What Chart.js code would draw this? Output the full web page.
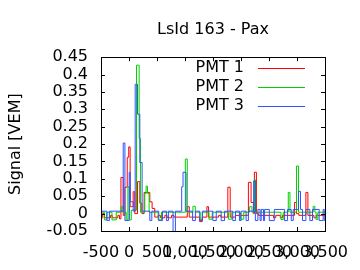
<!DOCTYPE html>
<html>
<head>
<meta charset="utf-8">
<script src="https://cdn.jsdelivr.net/npm/chart.js@4"></script>
<style>
  body { margin: 0; background: #fff; }
  canvas { display: block; }
</style>
</head>
<body>
<canvas id="myChart" width="360" height="270"></canvas>
<script>
var xTicks = [-500, 0, 500, 1000, 1500, 2000, 2500, 3000, 3500];
var legendNames = ['PMT 1', 'PMT 2', 'PMT 3'];

// step traces: each y holds from its x to the next x
var pmt1X = [-500, -470, -440, -330, -300, -200, -170, -144, -103, -73, -32, -5, 20, 45, 74, 103, 152, 193, 230, 270, 371, 412, 460, 520, 560, 640, 680, 760, 800, 1040, 1075, 1110, 1260, 1308, 1390, 1420, 1600, 1640, 1764, 1806, 1900, 2131, 2179, 2220, 2238, 2274, 2310, 2580, 2620, 2700, 2740, 2955, 2990, 3030, 3157, 3193, 3300, 3340, 3500];
var pmt1Y = [-0.012, 0.0, -0.012, -0.005, -0.012, -0.005, -0.015, 0.104, -0.005, 0.076, 0.162, 0.192, 0.02, 0.02, 0.063, 0.0, 0.092, 0.03, 0.0, 0.061, 0.034, 0.015, -0.01, -0.005, -0.012, -0.005, -0.012, -0.005, -0.01, 0.02, -0.01, -0.01, -0.023, -0.01, 0.02, -0.01, -0.005, -0.01, 0.076, -0.01, -0.005, 0.09, 0.032, 0.0, 0.119, 0.0, -0.005, -0.012, -0.005, -0.012, -0.005, 0.032, 0.0, -0.005, 0.061, -0.005, -0.012, -0.005, -0.005];

var pmt2X = [-500, -440, -393, -304, -228, -140, -109, -50, -20, 10, 40, 134, 181, 204, 282, 305, 330, 359, 520, 580, 1005, 1040, 1141, 1183, 1270, 1308, 1426, 1486, 1775, 1835, 1989, 2048, 2153, 2194, 2238, 2260, 2712, 2753, 2843, 2873, 2990, 3026, 3287, 3317, 3340, 3370, 3500];
var pmt2Y = [0.004, -0.018, 0.004, -0.018, 0.004, 0.02, 0.004, -0.018, 0.077, -0.018, 0.01, 0.427, 0.216, 0.004, 0.058, 0.079, 0.058, 0.004, -0.018, 0.004, 0.157, 0.004, 0.021, 0.004, -0.017, 0.004, -0.016, 0.004, -0.016, 0.004, -0.016, 0.004, 0.02, 0.004, 0.097, 0.004, -0.017, 0.004, 0.061, 0.004, 0.137, 0.004, 0.021, 0.004, -0.017, 0.004, 0.004];

var pmt3X = [-500, -395, -350, -103, -73, 3, 22, 33, 75, 110, 152, 193, 234, 371, 407, 531, 597, 667, 703, 786, 828, 940, 964, 1017, 1135, 1185, 1262, 1310, 1497, 1557, 1645, 1705, 1852, 1900, 1971, 2001, 2090, 2131, 2225, 2255, 2300, 2340, 2360, 2400, 2420, 2504, 2593, 2777, 2830, 2896, 2931, 3026, 3061, 3097, 3157, 3228, 3275, 3394, 3465, 3485, 3500];
var pmt3Y = [0.007, -0.02, 0.007, 0.203, -0.02, 0.119, 0.034, 0.034, 0.007, 0.372, 0.286, 0.147, 0.007, -0.02, 0.007, -0.02, 0.007, -0.02, 0.007, -0.07, 0.007, 0.077, 0.119, 0.007, -0.02, 0.007, -0.02, 0.007, -0.02, 0.007, -0.02, 0.007, -0.02, 0.007, -0.02, 0.007, -0.02, 0.007, 0.094, -0.02, 0.012, -0.02, 0.012, -0.02, 0.012, -0.02, 0.012, -0.02, 0.012, -0.02, 0.012, 0.064, 0.012, -0.02, 0.012, -0.02, 0.012, -0.02, 0.012, -0.02, -0.02];

var colors = ['#ff0000', '#00d000', '#3050ff'];

function pts(xs, ys) {
	return xs.map(function (x, i) { return {x: x, y: ys[i]}; });
}

var frameAndLegend = {
	id: 'frameAndLegend',
	afterDraw: function (chart) {
		var ctx = chart.ctx;
		var a = chart.chartArea;
		var xs = chart.scales.x, ys = chart.scales.y;
		ctx.save();
		ctx.strokeStyle = '#000';
		ctx.lineWidth = 1;
		ctx.strokeRect(Math.round(a.left) + 0.5, Math.round(a.top) + 0.5, Math.round(a.right - a.left), Math.round(a.bottom - a.top));
		ctx.beginPath();
		xs.ticks.forEach(function (t) {
			var px = Math.round(xs.getPixelForValue(t.value)) + 0.5;
			ctx.moveTo(px, a.bottom); ctx.lineTo(px, a.bottom - 4);
			ctx.moveTo(px, a.top); ctx.lineTo(px, a.top + 4);
		});
		ys.ticks.forEach(function (t) {
			var py = Math.round(ys.getPixelForValue(t.value)) + 0.5;
			ctx.moveTo(a.left, py); ctx.lineTo(a.left + 4, py);
			ctx.moveTo(a.right, py); ctx.lineTo(a.right - 4, py);
		});
		ctx.stroke();
		// legend, text right of the key line like gnuplot
		ctx.font = '16px "DejaVu Sans"';
		ctx.textAlign = 'right';
		ctx.textBaseline = 'middle';
		legendNames.forEach(function (name, i) {
			var y = 68 + i * 19;
			ctx.fillStyle = '#000';
			ctx.fillText(name, 244, y);
			ctx.fillStyle = colors[i];
			ctx.fillRect(258, y, 47, 1);
		});
		ctx.restore();
	}
};

var myChart = document.getElementById("myChart").getContext('2d');

var chart = new Chart(myChart, {
	type: 'line',
	data: {
		datasets: [
		{
			label: legendNames[0],
			data: pts(pmt1X, pmt1Y),
			borderColor: colors[0],
			borderWidth: 1,
			stepped: true,
			pointRadius: 0,
			order: 2
		},
		{
			label: legendNames[1],
			data: pts(pmt2X, pmt2Y),
			borderColor: colors[1],
			borderWidth: 1,
			stepped: true,
			pointRadius: 0,
			order: 1
		},
		{
			label: legendNames[2],
			data: pts(pmt3X, pmt3Y),
			borderColor: colors[2],
			borderWidth: 1,
			stepped: true,
			pointRadius: 0,
			order: 0
		}]
	},
	options: {
		responsive: false,
		animation: false,
		layout: { padding: { left: 0, right: 34, top: 0, bottom: 0 } },
		plugins: {
			legend: { display: false },
			tooltip: { enabled: false },
			title: {
				display: true,
				text: 'LsId 163 - Pax',
				color: '#000',
				fullSize: false,
				font: { family: 'DejaVu Sans', size: 16, weight: 'normal' },
				padding: { top: 20, bottom: 18 }
			}
		},
		scales: {
			x: {
				type: 'linear',
				min: -500,
				max: 3500,
				afterBuildTicks: function (s) { s.ticks = xTicks.map(function (v) { return {value: v}; }); },
				afterFit: function (s) { s.height = 39; },
				grid: { display: false, drawTicks: false },
				border: { display: false },
				ticks: {
					color: '#000',
					maxRotation: 0,
					autoSkip: false,
					padding: 12,
					font: { family: 'DejaVu Sans', size: 16 }
				}
			},
			y: {
				min: -0.05,
				max: 0.45,
				afterFit: function (s) { s.width = 101; },
				grid: { display: false, drawTicks: false },
				border: { display: false },
				ticks: {
					stepSize: 0.05,
					autoSkip: false,
					color: '#000',
					padding: 13,
					font: { family: 'DejaVu Sans', size: 16 },
					callback: function (v) { return String(Number(v.toFixed(2))); }
				},
				title: {
					display: true,
					text: 'Signal [VEM]',
					color: '#000',
					padding: { top: 6, bottom: 4 },
					font: { family: 'DejaVu Sans', size: 16 }
				}
			}
		}
	},
	plugins: [frameAndLegend]
});
</script>
</body>
</html>
